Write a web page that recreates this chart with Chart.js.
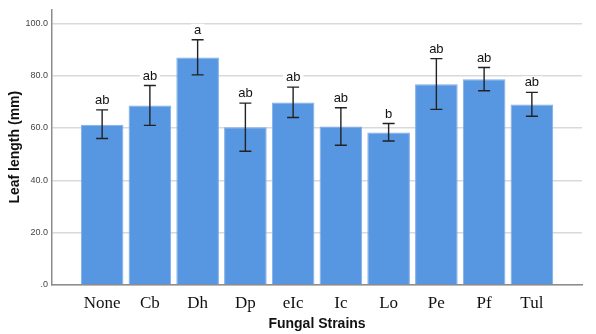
<!DOCTYPE html>
<html>
<head>
<meta charset="utf-8">
<script src="https://cdn.jsdelivr.net/npm/chart.js@4/dist/chart.umd.min.js"></script>
<style>
  html, body { margin: 0; padding: 0; background: #ffffff; }
  #wrap { width: 596px; height: 334px; }
</style>
</head>
<body>
<div id="wrap"><canvas id="c" width="596" height="334"></canvas></div>
<script>
// ---- Data ----
const categories = ["None", "Cb", "Dh", "Dp", "eIc", "Ic", "Lo", "Pe", "Pf", "Tul"];
const means      = [61.2, 68.6, 86.9, 60.3, 69.7, 60.6, 58.3, 76.7, 78.6, 69.0];
const errLow     = [56.0, 61.0, 80.3, 51.1, 64.0, 53.4, 55.0, 67.1, 74.2, 64.5];
const errHigh    = [66.9, 76.2, 93.7, 69.5, 75.6, 67.7, 61.7, 86.5, 83.1, 73.6];
const letters    = ["ab", "ab", "a", "ab", "ab", "ab", "b", "ab", "ab", "ab"];
const yTicks     = [0, 20, 40, 60, 80, 100];

const errorBarPlugin = {
  id: 'errorBars',
  afterDatasetsDraw(chart) {
    const ctx = chart.ctx;
    const xs = chart.scales.x, ys = chart.scales.y;
    ctx.save();
    categories.forEach((c, i) => {
      const x = xs.getPixelForValue(i);
      const yLo = ys.getPixelForValue(errLow[i]);
      const yHi = ys.getPixelForValue(errHigh[i]);
      const cap = 6;
      ctx.strokeStyle = '#222222';
      ctx.lineWidth = 1.4;
      ctx.beginPath();
      ctx.moveTo(x, yLo); ctx.lineTo(x, yHi);
      ctx.moveTo(x - cap, yHi); ctx.lineTo(x + cap, yHi);
      ctx.moveTo(x - cap, yLo); ctx.lineTo(x + cap, yLo);
      ctx.stroke();
      // letter label with white background
      ctx.font = '13px "Liberation Sans", Arial, sans-serif';
      ctx.textAlign = 'center';
      ctx.textBaseline = 'alphabetic';
      const w = ctx.measureText(letters[i]).width;
      const base = yHi - 6;
      ctx.fillStyle = '#ffffff';
      ctx.fillRect(x - w / 2 - 3, base - 10, w + 6, 12);
      ctx.fillStyle = '#111111';
      ctx.fillText(letters[i], x, base);
    });
    ctx.restore();
  }
};

new Chart(document.getElementById('c'), {
  type: 'bar',
  data: {
    datasets: [{
      data: categories.map((c, i) => ({ x: i, y: means[i] })),
      backgroundColor: '#5796e0',
      borderColor: '#7eaceb',
      borderWidth: 1,
      categoryPercentage: 1,
      barPercentage: 0.892
    }]
  },
  options: {
    responsive: false,
    animation: false,
    events: [],
    layout: { padding: { top: 9, right: 14, left: 0, bottom: 0 } },
    plugins: { legend: { display: false }, tooltip: { enabled: false } },
    scales: {
      x: {
        type: 'linear',
        offset: false,
        min: -1.05,
        max: 10.05,
        afterBuildTicks(scale) { scale.ticks = categories.map((c, i) => ({ value: i })); },
        afterFit(scale) { scale.height = 49; },
        grid: { display: false, offset: false },
        border: { display: true, color: '#8c8c8c', width: 1.5 },
        ticks: {
          autoSkip: false,
          maxRotation: 0,
          padding: 0,
          color: '#111111',
          font: { family: '"Liberation Serif", "Times New Roman", serif', size: 17 },
          callback: (v) => categories[v] !== undefined ? categories[v] : ''
        },
        title: {
          display: true,
          text: 'Fungal Strains',
          color: '#111111',
          font: { family: '"Liberation Sans", Arial, sans-serif', size: 14, weight: 'bold' },
          padding: { top: 0, bottom: 1 }
        }
      },
      y: {
        min: 0,
        max: 105.3,
        afterBuildTicks(scale) { scale.ticks = yTicks.map(v => ({ value: v })); },
        afterFit(scale) { scale.width = 52; },
        grid: { color: '#d9d9d9', lineWidth: 1.5, drawTicks: false },
        border: { display: true, color: '#8c8c8c', width: 1.5 },
        ticks: {
          padding: 4,
          color: '#444444',
          font: { family: '"Liberation Sans", Arial, sans-serif', size: 9 },
          callback: (v) => v === 0 ? '.0' : v.toFixed(1)
        },
        title: {
          display: true,
          text: 'Leaf length (mm)',
          color: '#111111',
          font: { family: '"Liberation Sans", Arial, sans-serif', size: 14, weight: 'bold' },
          padding: { top: 7, bottom: 0 }
        }
      }
    }
  },
  plugins: [errorBarPlugin]
});
</script>
</body>
</html>
